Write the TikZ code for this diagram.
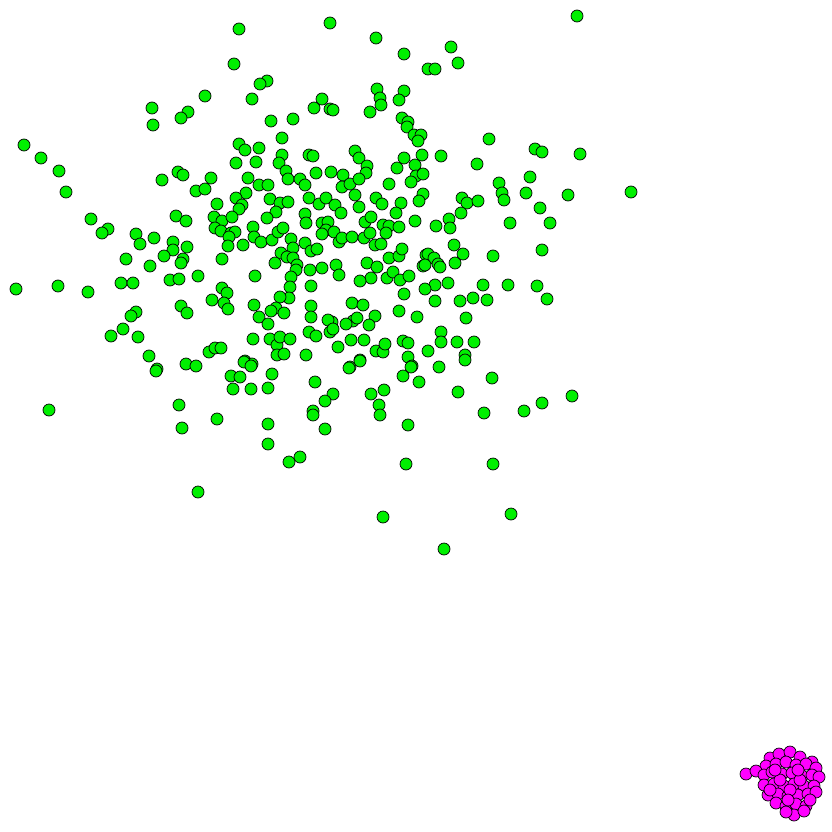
\documentclass[tikz,border=0pt]{standalone}
\begin{document}
\begin{tikzpicture}[x=1pt,y=-1pt,
  gdot/.style={draw=black,line width=0.7pt,fill={rgb,255:red,0;green,240;blue,0}},
  mdot/.style={draw=black,line width=0.7pt,fill={rgb,255:red,255;green,0;blue,255}}]
\useasboundingbox (0,0) rectangle (832,832);
\foreach \x/\y in {
239/29,330/23,577/16,376/38,451/47,404/54,234/64,458/63,428/69,435/69,267/81,260/84,377/89,404/91,252/99,205/96,322/99,314/108,330/109,333/110,380/98,399/100,381/105,370/112,152/108,188/112,181/118,153/125,271/121,293/119,402/118,408/122,407/127,414/135,421/135,418/141,282/138,489/139,
24/145,239/144,245/150,259/148,41/158,59/171,162/180,178/172,183/175,211/178,236/163,256/162,282/155,279/163,286/171,288/179,300/179,305/185,309/155,313/156,316/173,331/172,343/175,342/187,350/184,355/151,359/158,367/166,366/173,359/179,389/184,397/168,404/158,415/165,422/155,416/176,411/182,423/174,248/178,259/185,268/185,535/149,542/152,580/154,441/156,477/164,530/177,499/183,
66/192,196/191,205/189,246/193,236/198,242/205,239/209,217/204,270/199,280/203,288/202,309/198,319/204,326/198,335/205,341/213,355/195,359/207,376/198,382/204,401/203,396/213,423/194,419/201,502/193,504/200,526/193,568/195,631/192,462/198,467/203,478/201,461/213,540/208,
91/219,108/229,102/233,136/234,140/244,154/238,173/242,173/250,187/247,176/216,186/221,214/217,222/221,232/217,276/212,267/218,305/214,306/223,253/227,215/228,221/231,231/233,235/232,229/237,228/246,243/245,254/237,261/242,272/240,278/232,283/228,291/239,322/223,328/222,326/230,334/232,322/234,339/242,342/238,352/237,364/238,365/222,371/217,370/233,375/245,381/244,383/225,389/226,386/233,399/227,415/221,449/219,436/226,450/228,510/223,550/223,454/245,542/250,293/248,305/243,
164/256,183/259,181/263,126/259,150/266,222/259,16/289,58/286,88/292,121/283,133/283,170/280,179/279,198/276,222/288,227/293,255/276,281/253,275/263,287/257,293/258,297/265,296/270,311/251,317/249,310/270,322/268,336/265,339/275,291/277,367/263,377/267,371/278,360/281,387/278,393/272,400/280,409/276,389/258,399/256,402/249,426/255,423/266,428/254,434/258,425/265,438/264,440/267,463/254,455/263,493/256,311/286,290/287,435/285,425/289,448/283,483/285,508/285,537/286,
212/300,224/303,228/309,181/306,187/313,136/312,131/316,123/329,111/336,138/337,289/298,280/297,276/308,284/313,271/311,254/305,259/317,268/324,311/306,311/317,352/303,363/305,375/316,369/325,353/321,346/324,357/318,332/322,328/320,330/332,333/329,404/294,399/311,417/317,547/299,435/301,460/301,473/298,487/300,466/318,309/332,316/336,
149/356,157/369,186/364,196/366,209/352,215/348,221/348,253/339,270/339,277/345,280/337,290/339,277/355,284/354,306/355,338/347,351/340,364/340,376/351,383/352,385/344,403/341,408/343,408/357,412/366,360/360,350/367,245/361,252/364,428/351,441/332,441/342,457/342,474/342,465/355,439/367,
156/371,244/362,251/366,231/376,240/377,272/374,233/389,251/389,268/388,315/382,333/394,325/401,313/411,313/415,349/368,360/361,371/394,384/390,379/405,380/415,403/376,411/367,419/382,465/360,492/378,458/392,484/413,524/411,542/403,572/396,49/410,179/405,182/428,217/419,268/424,268/444,325/429,408/425,
289/462,300/457,406/464,493/464,198/492,383/517,511/514,444/549}
  \path[gdot] (\x,\y) circle[radius=6];
\foreach \x/\y in {
770/758,779/754,790/752,800/757,812/762,
766/766,776/764,786/762,796/765,806/764,816/768,
746/774,756/771,764/775,772/772,782/774,792/773,802/776,812/775,819/777,
764/785,774/784,784/786,794/784,804/786,814/786,
768/795,778/794,788/796,798/795,808/794,816/792,
776/803,786/806,796/804,806/806,
794/815,804/811,786/812,
780/780,790/790,800/780,770/790,810/800,775/770,798/770,788/800}
  \path[mdot] (\x,\y) circle[radius=6];
\end{tikzpicture}
\end{document}
